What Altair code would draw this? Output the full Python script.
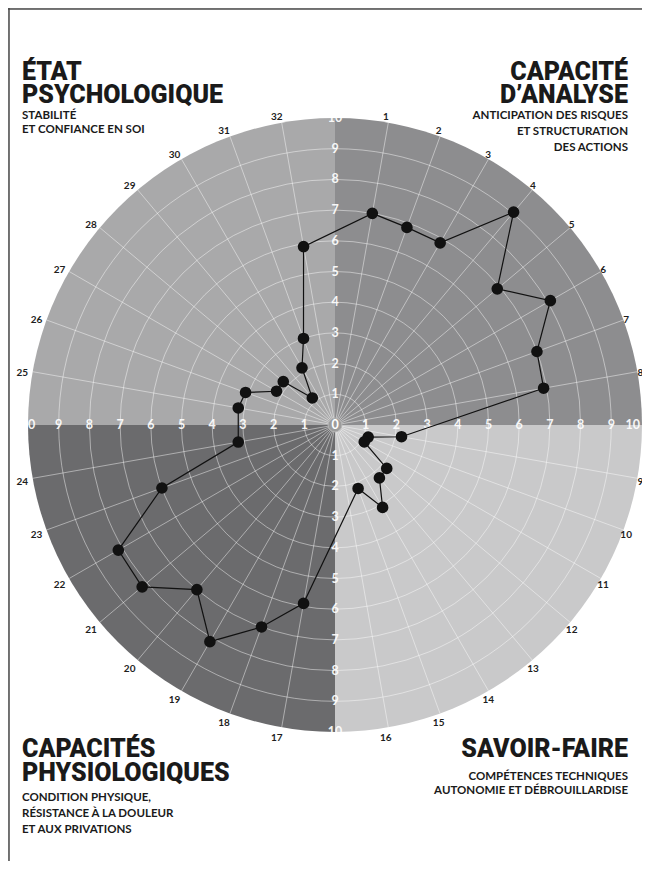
import altair as alt
import pandas as pd

# ---------------- data ----------------
# spoke numbers that carry a mark (spoke 16 has none) and their scores (0-10)
spokes = [1, 2, 3, 4, 5, 6, 7, 8,
          9, 10, 11, 12, 13, 14, 15,
          17, 18, 19, 20, 21, 22, 23, 24,
          25, 26, 27, 28, 29, 30, 31, 32]
scores = [7.0, 6.85, 6.85, 9.05, 6.9, 8.1, 7.0, 6.9,
          2.2, 1.15, 1.1, 2.2, 2.25, 3.1, 2.2,
          5.9, 7.0, 8.15, 7.0, 8.2, 8.15, 6.0, 3.2,
          3.2, 3.1, 2.2, 2.2, 1.15, 2.15, 3.0, 5.9]
spoke_labels = list(range(1, 33))
rings = list(range(1, 11))
quadrants = [0, 1, 2, 3]
quadrant_names = ["CAPACITÉ D'ANALYSE", "SAVOIR-FAIRE", "CAPACITÉS PHYSIOLOGIQUES", "ÉTAT PSYCHOLOGIQUE"]
quadrant_colors = ["#8d8d8f", "#c9c9ca", "#6b6b6d", "#a9a9aa"]
grid_angles = [a for a in range(0, 360, 10) if a % 90 != 0]

titles = {
    "tl_head": "ÉTAT\nPSYCHOLOGIQUE",
    "tl_sub": "STABILITÉ\nET CONFIANCE EN SOI",
    "tr_head": "CAPACITÉ\nD’ANALYSE",
    "tr_sub": "ANTICIPATION DES RISQUES\nET STRUCTURATION\nDES ACTIONS",
    "bl_head": "CAPACITÉS\nPHYSIOLOGIQUES",
    "bl_sub": "CONDITION PHYSIQUE,\nRÉSISTANCE À LA DOULEUR\nET AUX PRIVATIONS",
    "br_head": "SAVOIR-FAIRE",
    "br_sub": "COMPÉTENCES TECHNIQUES\nAUTONOMIE ET DÉBROUILLARDISE",
}

# ---------------- scales ----------------
W, H = 634, 853
CX, CY, R = 327, 417, 307
XS = alt.Scale(domain=[-10, 10], range=[CX - R, CX + R], nice=False, zero=False)
YS = alt.Scale(domain=[-10, 10], range=[CY + R, CY - R], nice=False, zero=False)
RS = alt.Scale(type="linear", domain=[0, 10], range=[0, R], zero=True)

FONT = "Lato"
HFONT = "Roboto"

def xy(xf, yf):
    return dict(x=alt.X(xf, type="quantitative", scale=XS, axis=None),
                y=alt.Y(yf, type="quantitative", scale=YS, axis=None))

# quadrant background
quad_df = pd.DataFrame({"q": quadrants, "name": quadrant_names, "color": quadrant_colors})
quads = alt.Chart(quad_df).transform_calculate(
    t0="datum.q*PI/2", t1="(datum.q+1)*PI/2", r="10", cx="0", cy="0"
).mark_arc(strokeWidth=0).encode(
    **xy("cx", "cy"),
    theta=alt.Theta("t0:Q", scale=None),
    theta2="t1:Q",
    radius=alt.Radius("r:Q", scale=RS),
    color=alt.Color("color:N", scale=None),
)

# rings
ring_df = pd.DataFrame({"ring": rings})
ring_layer = alt.Chart(ring_df).transform_filter("datum.ring < 10").transform_calculate(
    t0="0", t1="2*PI", cx="0", cy="0"
).mark_arc(fillOpacity=0, stroke="white", strokeOpacity=0.5, strokeWidth=0.9).encode(
    **xy("cx", "cy"),
    theta=alt.Theta("t0:Q", scale=None),
    theta2="t1:Q",
    radius=alt.Radius("ring:Q", scale=RS),
)

# spokes
spoke_df = pd.DataFrame({"deg": grid_angles})
spoke_layer = alt.Chart(spoke_df).transform_calculate(
    x0="0", y0="0",
    x1="10*sin(datum.deg*PI/180)", y1="10*cos(datum.deg*PI/180)",
).mark_rule(color="white", strokeOpacity=0.5, strokeWidth=0.9).encode(
    **xy("x0", "y0"), x2="x1:Q", y2="y1:Q"
)

# ring value labels along the four axes
lab_rows = []
for v in rings:
    for d in range(4):
        lab_rows.append({"v": v, "d": d})
lab_df = pd.DataFrame(lab_rows)
ring_labels = alt.Chart(lab_df).transform_calculate(
    lx="datum.v*round(sin(datum.d*PI/2)) - (datum.v == 10 && datum.d == 1 ? 0.3 : 0)",
    ly="datum.v*round(cos(datum.d*PI/2))",
    txt="''+datum.v",
).mark_text(color="white", fontWeight="bold", fontSize=12.5, font=FONT, opacity=0.92,
            baseline="middle", align="center").encode(
    **xy("lx", "ly"), text="txt:N"
)

center_df = pd.DataFrame({"v": [0]})
center_dot = alt.Chart(center_df).mark_circle(size=190, color="#9c9c9c", opacity=1,
                                             stroke="#b5b5b5", strokeWidth=1).encode(**xy("v", "v"))
center_txt = alt.Chart(center_df).mark_text(color="white", fontWeight="bold", fontSize=12.5, font=FONT,
                                            baseline="middle", align="center").encode(
    **xy("v", "v"), text="v:N")

# spoke number labels
sl_df = pd.DataFrame({"k": spoke_labels})
ANG = "(floor((datum.k-1)/8)*90 + ((datum.k-1)%8+1)*10)*PI/180"
spoke_text = alt.Chart(sl_df).transform_calculate(
    a=ANG, lx="10.22*sin(datum.a) - 0.12", ly="10.26*cos(datum.a) - 0.08"
).mark_text(color="#1e1e1e", fontWeight="bold", fontSize=10, font=FONT,
            baseline="middle", align="center").encode(**xy("lx", "ly"), text="k:N")

# data
data_df = pd.DataFrame({"spoke": spokes, "score": scores})
base = alt.Chart(data_df).transform_calculate(
    a="(floor((datum.spoke-1)/8)*90 + ((datum.spoke-1)%8+1)*10)*PI/180"
).transform_calculate(
    px="datum.score*sin(datum.a)", py="datum.score*cos(datum.a)"
)
line = base.mark_line(color="#111111", strokeWidth=1.2, interpolate="linear-closed").encode(
    **xy("px", "py"), order="spoke:Q"
)
points = base.mark_circle(size=135, color="#111111", opacity=1).encode(**xy("px", "py"))

# titles
def txt(key, x, y, size, align, lh, font, weight):
    return alt.Chart(pd.DataFrame({"t": [titles[key]]})).mark_text(
        font=font, fontWeight=weight, fontSize=size, align=align, baseline="alphabetic",
        color="#1a1a1a", lineBreak="\n", lineHeight=lh,
    ).encode(x=alt.value(x), y=alt.value(y), text="t:N")

HEAD, SUB = 25, 11.5
title_layers = [
    txt("tl_head", 14, 72, HEAD, "left", 23, HFONT, 900),
    txt("tl_sub", 14, 111, SUB, "left", 14, FONT, "bold"),
    txt("tr_head", 620, 72, HEAD, "right", 23, HFONT, 900),
    txt("tr_sub", 620, 111, SUB, "right", 16, FONT, "bold"),
    txt("bl_head", 14, 749, HEAD, "left", 24, HFONT, 900),
    txt("bl_sub", 14, 793, SUB, "left", 16, FONT, "bold"),
    txt("br_head", 620, 749, HEAD, "right", 24, HFONT, 900),
    txt("br_sub", 620, 772, SUB, "right", 14, FONT, "bold"),
]

frame_df = pd.DataFrame({"z": [0]})
left_border = alt.Chart(frame_df).mark_rule(color="#4a4a4a", strokeWidth=1.5).encode(
    x=alt.value(1), y=alt.value(0), y2=alt.value(H))
top_border = alt.Chart(frame_df).mark_rule(color="#4a4a4a", strokeWidth=1.5).encode(
    y=alt.value(1), x=alt.value(0), x2=alt.value(W))

chart = alt.layer(
    quads, ring_layer, spoke_layer, center_dot, ring_labels, center_txt, spoke_text,
    line, points, *title_layers, left_border, top_border
).properties(
    width=W, height=H, autosize=alt.AutoSizeParams(type="none"), padding=0
).configure_view(stroke=None).configure(background="white")

chart.save("out.html", embed_options={"renderer": "svg", "actions": False})
